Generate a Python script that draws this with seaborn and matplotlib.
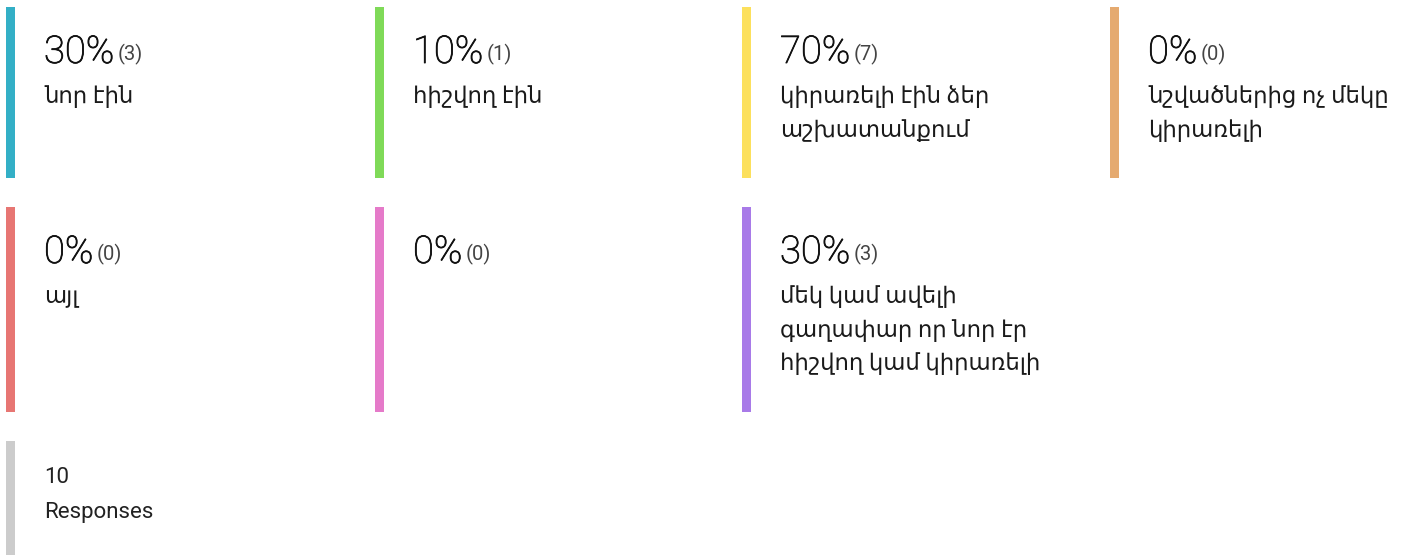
import matplotlib
matplotlib.use("Agg")
import matplotlib.pyplot as plt
import matplotlib.patheffects as pe
import seaborn as sns
from matplotlib.patches import Rectangle

sns.set_style("white")
plt.rcParams['font.family'] = ['Roboto', 'Noto Sans', 'DejaVu Sans']

# ---------------- DATA ----------------
percents = [30, 10, 70, 0, 0, 0, 30]
counts = [3, 1, 7, 0, 0, 0, 3]
labels = [
    "նոր էին",
    "հիշվող էին",
    "կիրառելի էին ձեր\nաշխատանքում",
    "նշվածներից ոչ մեկը\nկիրառելի",
    "այլ",
    "",
    "մեկ կամ ավելի\nգաղափար որ նոր էր\nհիշվող կամ կիրառելի",
]
colors = ["#33AFC6", "#7FDA58", "#FCE05C", "#E5AA70",
          "#E77673", "#E57AC9", "#A87AE8"]
total = 10
total_label = "Responses"

# ---------------- LAYOUT ----------------
W, H = 1408, 555
col_x = [6, 375, 742, 1110]
row_top = [7, 207, 441]
row_bot = [178, 412, 555]
stripe_w = 9
line_gap = 33.5

fig = plt.figure(figsize=(W / 100, H / 100), dpi=100)
ax = fig.add_axes([0, 0, 1, 1])
ax.set_xlim(0, W)
ax.set_ylim(H, 0)
ax.axis("off")

# light digits look a bit washed out in Agg, thicken them slightly
darken = [pe.withStroke(linewidth=0.6, foreground="#111111")]

pct_texts = []
for i, (p, c, lab, col) in enumerate(zip(percents, counts, labels, colors)):
    r, k = divmod(i, 4)
    x0, y0 = col_x[k], row_top[r]
    ax.add_patch(Rectangle((x0, y0), stripe_w, row_bot[r] - y0, color=col, lw=0))
    tx = x0 + 38
    t = ax.text(tx, y0 + 56, f"{p}%", fontsize=27.5, fontweight="light",
                color="#111111", va="baseline", ha="left", path_effects=darken)
    pct_texts.append((t, c, y0))
    # one text per line so every baseline sits where it should
    for j, line in enumerate(lab.split("\n") if lab else []):
        ax.text(tx, y0 + 96 + j * line_gap, line, fontsize=16.4, color="#1a1a1a",
                va="baseline", ha="left")

# total responses card
ax.add_patch(Rectangle((col_x[0], row_top[2]), stripe_w, row_bot[2] - row_top[2],
                       color="#CCCCCC", lw=0))
ax.text(col_x[0] + 38, row_top[2] + 42, str(total), fontsize=16,
        color="#222222", va="baseline")
ax.text(col_x[0] + 38, row_top[2] + 77, total_label, fontsize=16,
        color="#222222", va="baseline")

# place the counts right after each percentage
fig.canvas.draw()
for t, c, y0 in pct_texts:
    bb = t.get_window_extent()
    ax.text(bb.x1 + 3, y0 + 53, f"({c})", fontsize=14.5,
            color="#444444", va="baseline", ha="left")

fig.savefig("out.png", dpi=100)
